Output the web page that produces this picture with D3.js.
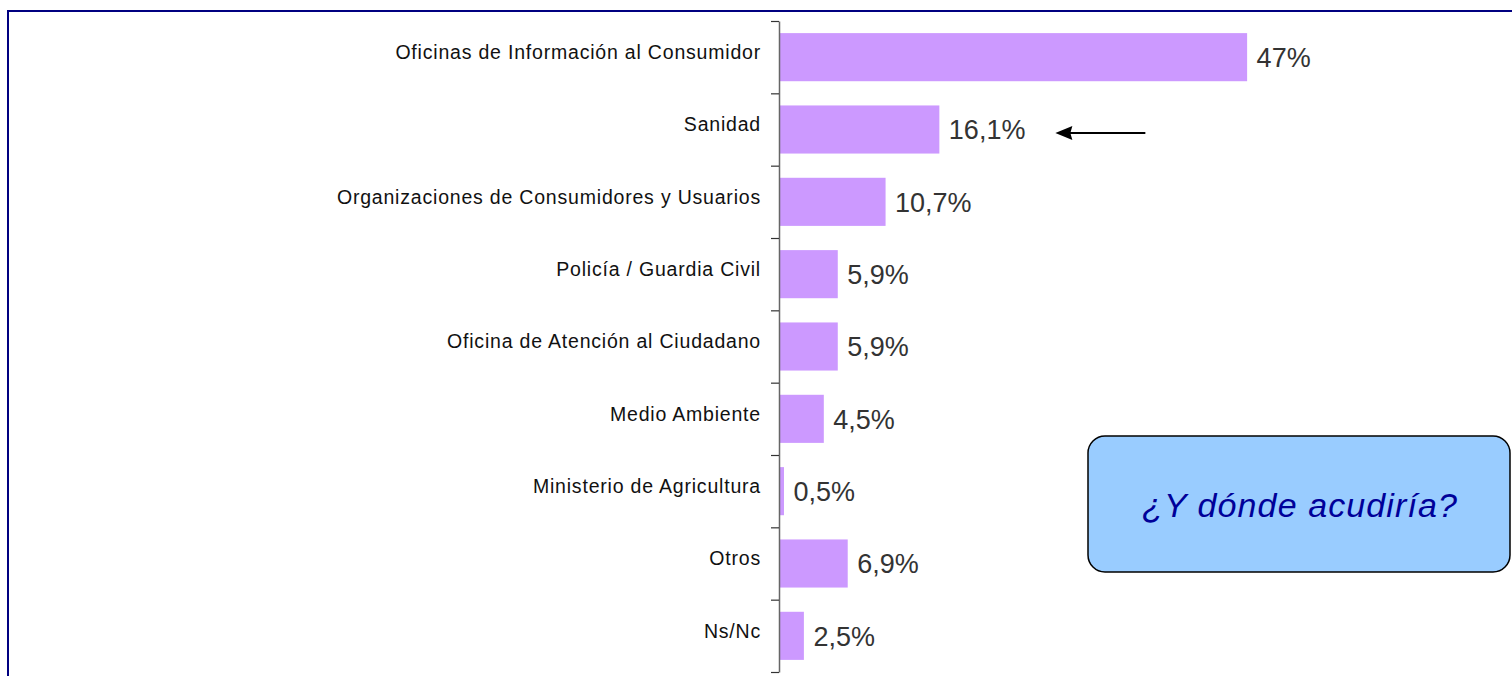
<!DOCTYPE html>
<html>
<head>
<meta charset="utf-8">
<script src="https://cdn.jsdelivr.net/npm/d3@7"></script>
<style>
    body { margin: 0; background: #ffffff; }
    svg { display: block; }
</style>
</head>
<body>
<div id="grafico"></div>
<script>

// Dati del grafico
let categorie = [
    "Oficinas de Información al Consumidor",
    "Sanidad",
    "Organizaciones de Consumidores y Usuarios",
    "Policía / Guardia Civil",
    "Oficina de Atención al Ciudadano",
    "Medio Ambiente",
    "Ministerio de Agricultura",
    "Otros",
    "Ns/Nc"
];
let valori = [47, 16.1, 10.7, 5.9, 5.9, 4.5, 0.5, 6.9, 2.5];
let evidenziato = "Sanidad";
let titoloBox = "¿Y dónde acudiría?";

let larghezza = 1512;
let altezza = 676;
let asseX = 779;
let yTop = 21;
let yBottom = 672;

let svg = d3.select("#grafico")
    .append("svg")
    .attr("width", larghezza)
    .attr("height", altezza);

// Cornice blu
svg.append("rect")
    .attr("x", 8)
    .attr("y", 11)
    .attr("width", 1530)
    .attr("height", 700)
    .style("fill", "none")
    .style("stroke", "#000080")
    .style("stroke-width", 2);

// Scale
let x = d3.scaleLinear()
    .domain([0, 50])
    .range([asseX, asseX + 498]);

let y = d3.scaleBand()
    .domain(categorie)
    .range([yTop, yBottom])
    .paddingInner(0.335)
    .paddingOuter(0.1675);

let righe = categorie.map((c, i) => ({ categoria: c, valore: valori[i] }));

// Barre
svg.append("g")
    .selectAll("rect")
    .data(righe)
    .enter().append("rect")
    .attr("x", x(0))
    .attr("y", (d) => y(d.categoria))
    .attr("width", (d) => x(d.valore) - x(0))
    .attr("height", y.bandwidth())
    .style("fill", "#cc99ff");

// Asse verticale con i tick tra le categorie
let yConfini = d3.scaleLinear()
    .domain([0, categorie.length])
    .range([yTop, yBottom]);

let asse = svg.append("g")
    .attr("transform", `translate(${asseX},0)`)
    .call(d3.axisLeft(yConfini)
        .tickValues(d3.range(categorie.length + 1))
        .tickFormat("")
        .tickSize(8)
        .tickSizeOuter(0));
asse.select(".domain").style("stroke", "#666666").style("stroke-width", 1.5);
asse.selectAll(".tick line").style("stroke", "#333333").style("stroke-width", 1.2);

// Etichette delle categorie
svg.append("g")
    .selectAll("text")
    .data(righe)
    .enter().append("text")
    .text((d) => d.categoria)
    .attr("x", asseX - 18)
    .attr("y", (d) => y(d.categoria) + y.bandwidth() / 2 - 5)
    .attr("dy", "0.35em")
    .style("text-anchor", "end")
    .style("fill", "#111111")
    .style("font-family", "'Liberation Sans', Arial, sans-serif")
    .style("font-size", "19.5px")
    .style("letter-spacing", "0.8px");

// Etichette dei valori
svg.append("g")
    .selectAll("text")
    .data(righe)
    .enter().append("text")
    .text((d) => String(d.valore).replace(".", ",") + "%")
    .attr("x", (d) => x(d.valore) + 9.5)
    .attr("y", (d) => y(d.categoria) + y.bandwidth() / 2)
    .attr("dy", "0.36em")
    .style("fill", "#333333")
    .style("font-family", "'Liberation Sans', Arial, sans-serif")
    .style("font-size", "27px");

// Freccia verso Sanidad
let valoreEvid = valori[categorie.indexOf(evidenziato)];
let yFreccia = y(evidenziato) + y.bandwidth() / 2 + 3.5;
let punta = x(valoreEvid) + 116;
let coda = x(valoreEvid) + 206;

svg.append("line")
    .attr("x1", punta + 14)
    .attr("y1", yFreccia)
    .attr("x2", coda)
    .attr("y2", yFreccia)
    .style("stroke", "#000000")
    .style("stroke-width", 1.8);

svg.append("path")
    .attr("d", `M${punta},${yFreccia} L${punta + 17},${yFreccia - 7} L${punta + 15},${yFreccia} L${punta + 17},${yFreccia + 7} Z`)
    .style("fill", "#000000");

// Riquadro con la domanda
let box = svg.append("g");
box.append("rect")
    .attr("x", 1088)
    .attr("y", 436)
    .attr("width", 422)
    .attr("height", 136)
    .attr("rx", 17)
    .attr("ry", 17)
    .style("fill", "#99ccff")
    .style("stroke", "#000000")
    .style("stroke-width", 1.5);

box.append("text")
    .text(titoloBox)
    .attr("x", 1300)
    .attr("y", 505)
    .attr("dy", "0.36em")
    .style("text-anchor", "middle")
    .style("fill", "#000099")
    .style("font-family", "'Liberation Sans', Arial, sans-serif")
    .style("font-style", "italic")
    .style("font-size", "34px")
    .style("letter-spacing", "1.1px");

</script>
</body>
</html>
